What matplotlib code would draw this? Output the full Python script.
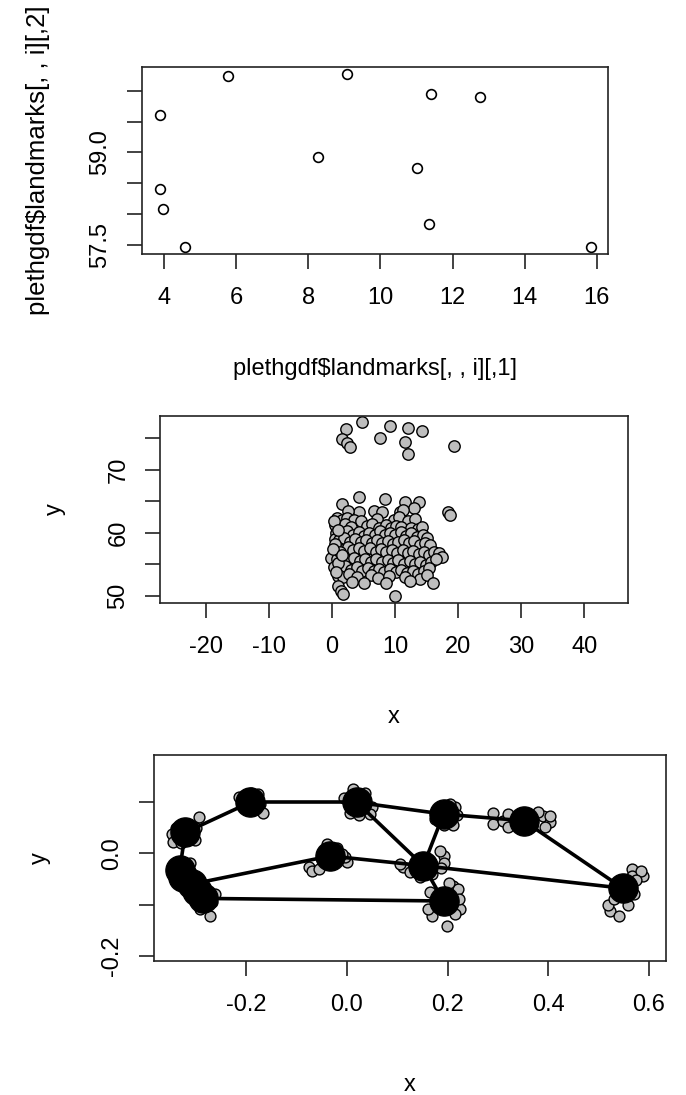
import numpy as np
import matplotlib
matplotlib.use('Agg')
import matplotlib.pyplot as plt

# ── panel 1: one specimen, raw landmarks ─────────────────────────────────────
spec_x = [3.89, 5.78, 9.07, 11.39, 12.75, 8.26, 11.02, 3.89, 3.96, 11.35, 4.57, 15.85]
spec_y = [59.60, 60.24, 60.27, 59.95, 59.90, 58.93, 58.75, 58.40, 58.08, 57.84, 57.47, 57.47]

# ── panel 2: all specimens, raw landmarks ────────────────────────────────────
raw_x = [
    4.71, 2.22, 1.63, 2.33, 2.86, 7.62, 9.20, 12.06, 14.20, 11.60, 12.06, 19.40,
    4.3, 8.4, 1.6, 11.6, 13.8,
    13.0, 4.3, 6.7, 7.9, 10.8, 2.5, 11.3, 18.4, 18.7,
    0.8, 1.5, 2.3, 3.5, 4.6, 7.2, 9.8, 10.6, 12.1, 13.2,
    0.5, 1.2, 2.0, 3.0, 5.5, 6.4, 7.5, 8.5, 9.3, 10.1, 11.0, 12.5, 13.6, 14.2,
    0.6, 1.4, 2.4, 3.3, 4.2, 5.0, 5.9, 6.8, 7.6, 8.4, 9.2, 10.0, 10.9, 11.8, 12.6, 13.5, 14.4, 15.0,
    0.4, 1.1, 1.9, 2.8, 3.7, 4.6, 5.4, 6.3, 7.1, 8.0, 8.9, 9.7, 10.5, 11.4, 12.2, 13.0, 13.9, 14.7, 15.5,
    0.7, 1.6, 2.5, 3.4, 4.2, 5.1, 6.0, 6.9, 7.8, 8.6, 9.5, 10.3, 11.2, 12.0, 12.9, 13.8, 14.6, 15.4,
    16.2, 17.0, 17.5,
    -0.2, 0.8, 1.7, 2.6, 3.5, 4.4, 5.3, 6.2, 7.0, 7.9, 8.8, 9.7, 10.5, 11.4, 12.3, 13.1, 14.0, 14.9,
    15.7, 16.5,
    0.3, 1.2, 2.1, 3.0, 3.9, 4.8, 5.7, 6.6, 7.4, 8.3, 9.2, 10.1, 11.0, 11.9, 12.8, 13.7, 14.6, 15.4,
    0.9, 1.8, 2.7, 4.0, 6.2, 7.3, 9.0, 11.5, 13.9, 15.0,
    1.0, 1.4, 1.8, 5.0, 8.5, 10.0, 16.0, 3.2, 12.4,
    0.3, 0.9, 0.5, 1.3, 0.2, 1.0, 0.6, 1.5,
]
raw_y = [
    77.5, 76.4, 74.8, 74.2, 73.6, 75.0, 76.9, 76.6, 76.1, 74.3, 72.4, 73.7,
    65.7, 65.4, 64.6, 64.9, 64.8,
    63.9, 63.3, 63.4, 63.2, 63.2, 63.5, 63.6, 63.2, 62.8,
    62.3, 62.0, 62.4, 62.0, 61.8, 62.1, 62.0, 62.5, 61.8, 62.2,
    61.2, 61.0, 61.4, 60.9, 61.0, 61.3, 60.8, 61.2, 60.7, 61.1, 60.9, 60.8, 60.6, 60.9,
    60.0, 59.8, 60.2, 59.6, 60.1, 59.5, 60.0, 59.7, 60.2, 59.6, 60.0, 59.7, 60.1, 59.5, 59.9, 59.3, 59.7, 59.2,
    59.0, 58.8, 59.2, 58.6, 59.0, 58.5, 58.9, 58.4, 58.8, 58.3, 58.7, 58.2, 58.6, 58.9, 58.3, 58.7, 58.1, 58.4, 58.0,
    57.6, 57.3, 57.8, 57.2, 57.6, 57.1, 57.5, 57.0, 57.4, 56.9, 57.3, 56.8, 57.2, 56.7, 57.1, 56.6, 57.0, 56.5,
    56.9, 56.7, 56.1,
    56.0, 55.8, 56.2, 55.6, 56.0, 55.5, 55.9, 55.4, 55.8, 55.3, 55.7, 55.2, 55.6, 55.1, 55.5, 55.0, 55.4, 54.9,
    55.3, 55.8,
    54.6, 54.2, 54.7, 54.1, 54.5, 54.0, 54.4, 53.9, 54.3, 53.8, 54.2, 53.7, 54.1, 53.6, 54.0, 53.5, 53.9, 54.4,
    53.2, 52.9, 53.4, 53.0, 53.3, 52.8, 53.2, 53.0, 52.7, 53.3,
    51.5, 50.8, 50.3, 52.0, 52.0, 50.0, 52.0, 52.2, 52.4,
    61.8, 60.5, 58.2, 57.0, 57.4, 55.2, 53.8, 56.5,
]

# ── panel 3: aligned coordinates, mean shape and links ───────────────────────
mean_x = [-0.321, -0.192, 0.020, 0.192, 0.351, 0.548, 0.152, 0.192, -0.033, -0.332, -0.308, -0.285]
mean_y = [0.041, 0.100, 0.100, 0.077, 0.064, -0.068, -0.024, -0.093, -0.005, -0.033, -0.060, -0.088]
blob_x = [-0.326, -0.297]
blob_y = [-0.046, -0.074]
links = [(0, 1), (1, 2), (2, 3), (3, 4), (4, 5), (2, 6), (3, 6), (6, 7),
         (8, 6), (6, 5), (10, 8), (0, 9), (9, 10), (10, 11), (11, 7)]

aligned_x = [
    -0.293, -0.348, -0.345, -0.302, -0.330, -0.340, -0.300,
    -0.166, -0.176, -0.215, -0.172, -0.205, -0.190,
    0.013, 0.049, 0.046, 0.006, 0.036, 0.025, -0.005,
    0.215, 0.210, 0.192, 0.218, 0.175, 0.205,
    0.291, 0.291, 0.311, 0.321, 0.390, 0.403, 0.403, 0.393, 0.321, 0.368, 0.380,
    0.566, 0.588, 0.566, 0.584, 0.523, 0.541, 0.519, 0.558, 0.571, 0.575, 0.530,
    0.192, 0.192, 0.188, 0.112, 0.106, 0.126, 0.146, 0.170, 0.186,
    0.165, 0.211, 0.221, 0.225, 0.215, 0.199, 0.169, 0.162, 0.202, 0.222,
    -0.076, -0.070, -0.055, 0.000, -0.003, -0.040, -0.020, -0.010,
    -0.311, -0.345, -0.340, -0.271, -0.262, -0.292, -0.268,
]
aligned_y = [
    0.072, 0.038, 0.022, 0.026, 0.020, 0.050, 0.050,
    0.080, 0.117, 0.110, 0.097, 0.088, 0.118,
    0.126, 0.090, 0.077, 0.080, 0.118, 0.076, 0.108,
    0.090, 0.055, 0.056, 0.075, 0.068, 0.097,
    0.080, 0.057, 0.064, 0.077, 0.074, 0.061, 0.074, 0.051, 0.051, 0.054, 0.082,
    -0.031, -0.044, -0.044, -0.034, -0.113, -0.123, -0.100, -0.100, -0.080, -0.052, -0.090,
    -0.005, -0.018, -0.028, -0.027, -0.020, -0.037, -0.047, -0.040, 0.005,
    -0.076, -0.063, -0.070, -0.109, -0.119, -0.142, -0.122, -0.109, -0.057, -0.090,
    -0.027, -0.035, -0.030, -0.017, -0.006, 0.018, 0.010, -0.002,
    -0.018, -0.030, -0.045, -0.122, -0.080, -0.108, -0.095,
]

plt.rcParams['font.family'] = ['Liberation Sans', 'DejaVu Sans']
plt.rcParams['axes.unicode_minus'] = False
FS = 17
INK = '#222222'


def style(ax, xpos, ypos):
    for s in ax.spines.values():
        s.set_linewidth(1.2)
        s.set_color(INK)
    ax.tick_params(direction='out', length=11, width=1.2, color=INK, labelsize=FS)
    ax.tick_params(axis='x', pad=13)
    ax.tick_params(axis='y', pad=11)
    for t in ax.get_yticklabels():
        t.set_rotation(90)
        t.set_va('center')
    ax.xaxis.set_label_coords(0.5, xpos)
    ax.xaxis.label.set_va('center')
    ax.yaxis.set_label_coords(ypos, 0.5)
    ax.yaxis.label.set_va('center')


fig = plt.figure(figsize=(6.86, 10.95), dpi=100)

# ── panel 1 ──
ax1 = fig.add_axes([0.2066, 0.7680, 0.6797, 0.1708])
ax1.plot(spec_x, spec_y, 'o', ms=7, mfc='white', mec='black', mew=1.2, ls='none')
ax1.set_xlim(3.38, 16.31)
ax1.set_ylim(57.354, 60.385)
ax1.set_xticks(np.arange(4, 17, 2))
ax1.set_xticklabels([str(v) for v in range(4, 17, 2)])
y1t = [57.5, 58.0, 58.5, 59.0, 59.5, 60.0]
ax1.set_yticks(y1t)
ax1.set_yticklabels(['57.5', '', '', '59.0', '', ''])
ax1.set_xlabel('plethgdf$landmarks[, , i][,1]', fontsize=FS)
ax1.set_ylabel('plethgdf$landmarks[, , i][,2]', fontsize=18.5, rotation=90, ha='center')
style(ax1, -0.615, -0.222)

# ── panel 2 ──
ax2 = fig.add_axes([0.2332, 0.4496, 0.6818, 0.1705])
ax2.plot(raw_x, raw_y, 'o', ms=8.2, mfc='#BEBEBE', mec='black', mew=1.0, ls='none')
ax2.set_xlim(-27.3, 46.9)
ax2.set_ylim(48.9, 78.5)
ax2.set_xticks(np.arange(-20, 41, 10))
ax2.set_xticklabels([str(v) for v in range(-20, 41, 10)])
ax2.set_yticks(np.arange(50, 76, 5))
ax2.set_yticklabels(['50', '', '60', '', '70', ''])
ax2.set_xlabel('x', fontsize=FS)
ax2.set_ylabel('y', fontsize=FS, rotation=90, ha='center')
style(ax2, -0.612, -0.225)

# ── panel 3 ──
ax3 = fig.add_axes([0.2245, 0.1224, 0.7464, 0.1881])
ax3.plot(aligned_x, aligned_y, 'o', ms=7.8, mfc='#BEBEBE', mec='black', mew=1.0, ls='none', zorder=2)
for a, b in links:
    ax3.plot([mean_x[a], mean_x[b]], [mean_y[a], mean_y[b]], color='black', lw=2.6, zorder=3)
ax3.plot(mean_x, mean_y, 'o', ms=21, mfc='black', mec='black', ls='none', zorder=4)
ax3.plot(blob_x, blob_y, 'o', ms=21, mfc='black', mec='black', ls='none', zorder=4)
ax3.set_xlim(-0.383, 0.634)
ax3.set_ylim(-0.2104, 0.1926)
x3t = [-0.2, 0.0, 0.2, 0.4, 0.6]
ax3.set_xticks(x3t)
ax3.set_xticklabels(['-0.2', '0.0', '0.2', '0.4', '0.6'])
ax3.set_yticks([-0.2, -0.1, 0.0, 0.1])
ax3.set_yticklabels(['-0.2', '', '0.0', ''])
ax3.set_xlabel('x', fontsize=FS)
ax3.set_ylabel('y', fontsize=FS, rotation=90, ha='center')
style(ax3, -0.602, -0.222)

fig.savefig('out.png', dpi=100)
